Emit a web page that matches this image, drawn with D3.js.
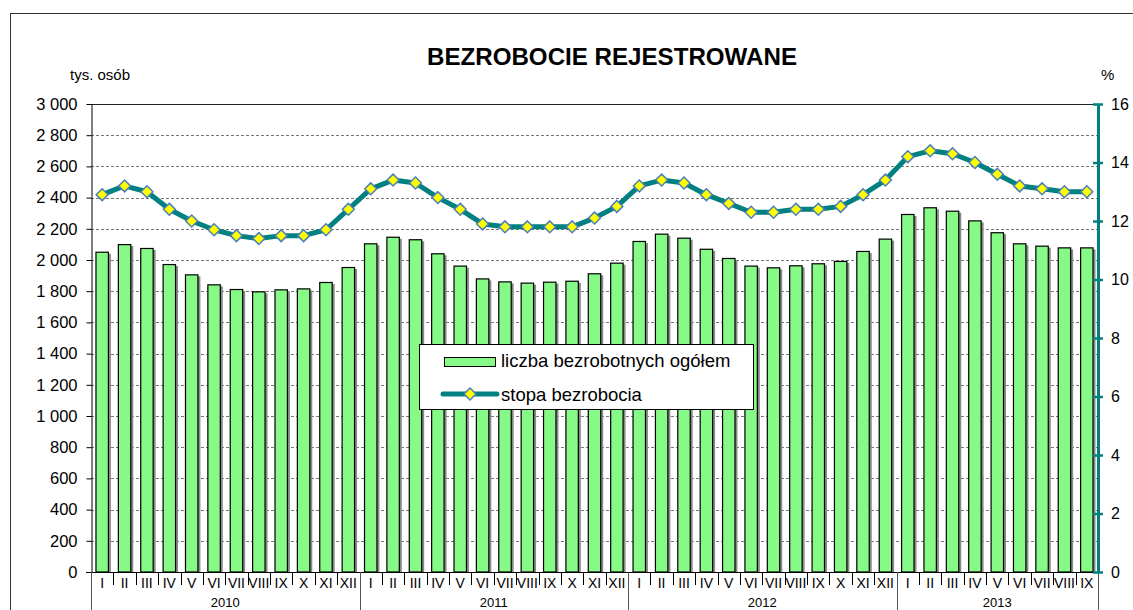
<!DOCTYPE html>
<html>
<head>
<meta charset="utf-8">
<script src="https://cdn.jsdelivr.net/npm/d3@7"></script>
<style>
  html, body { margin: 0; padding: 0; background: #fff; }
  svg { display: block; font-family: "Liberation Sans", Arial, sans-serif; }
</style>
</head>
<body>
<svg id="chart" width="1133" height="610"></svg>
<script>
// ---- data ----
const years = ["2010", "2011", "2012", "2013"];
const monthsPerYear = [12, 12, 12, 9];
const monthLabels = ["I","II","III","IV","V","VI","VII","VIII","IX","X","XI","XII"];
const unemployed = [ // tys. osób
  2053, 2102, 2077, 1974, 1908, 1844, 1814, 1799, 1812, 1818, 1859, 1955,
  2107, 2149, 2133, 2043, 1964, 1882, 1863, 1855, 1861, 1867, 1915, 1983,
  2122, 2169, 2143, 2072, 2013, 1964, 1953, 1966, 1979, 1994, 2058, 2137,
  2295, 2338, 2316, 2254, 2178, 2107, 2092, 2081, 2081
];
const rate = [ // %
  12.9, 13.2, 13.0, 12.4, 12.0, 11.7, 11.5, 11.4, 11.5, 11.5, 11.7, 12.4,
  13.1, 13.4, 13.3, 12.8, 12.4, 11.9, 11.8, 11.8, 11.8, 11.8, 12.1, 12.5,
  13.2, 13.4, 13.3, 12.9, 12.6, 12.3, 12.3, 12.4, 12.4, 12.5, 12.9, 13.4,
  14.2, 14.4, 14.3, 14.0, 13.6, 13.2, 13.1, 13.0, 13.0
];
const leftTicks = [0,200,400,600,800,1000,1200,1400,1600,1800,2000,2200,2400,2600,2800,3000];
const rightTicks = [0,2,4,6,8,10,12,14,16];
const titleText = "BEZROBOCIE REJESTROWANE";
const leftUnit = "tys. osób";
const rightUnit = "%";
const legendLabels = ["liczba bezrobotnych ogółem", "stopa bezrobocia"];

// ---- build periods ----
const periods = [];
years.forEach((y, yi) => {
  for (let m = 0; m < monthsPerYear[yi]; m++) periods.push({ key: y + "-" + m, year: y, month: monthLabels[m] });
});

const svg = d3.select("#chart");
const L = 91, R = 1098, T = 104, B = 572;

const x = d3.scaleBand().domain(periods.map(d => d.key)).range([L, R]).paddingInner(0.4).paddingOuter(0.2);
const xs = d3.scaleBand().domain(periods.map(d => d.key)).range([L, R]).padding(0);
const yL = d3.scaleLinear().domain([0, 3000]).range([B, T]);
const yR = d3.scaleLinear().domain([0, 16]).range([B, T]);

const fmt = v => d3.format(",")(v).replace(/,/g, " ");

// outer frame
svg.append("rect").attr("x", 10.5).attr("y", 13.5).attr("width", 1140).attr("height", 620)
  .attr("fill", "none").attr("stroke", "#333").attr("stroke-width", 1);

// title
svg.append("text").attr("x", 612).attr("y", 65).attr("text-anchor", "middle")
  .attr("font-size", 23).attr("font-weight", "bold").attr("fill", "#000")
  .attr("textLength", 370).attr("lengthAdjust", "spacingAndGlyphs")
  .text(titleText);

svg.append("text").attr("x", 70).attr("y", 80).attr("font-size", 15).text(leftUnit);
svg.append("text").attr("x", 1101).attr("y", 80).attr("font-size", 15).text(rightUnit);

// gridlines
svg.append("g").selectAll("line").data(leftTicks.filter(v => v > 0)).join("line")
  .attr("x1", L).attr("x2", R)
  .attr("y1", d => Math.round(yL(d)) + 0.5).attr("y2", d => Math.round(yL(d)) + 0.5)
  .attr("stroke", d => d === 3000 ? "#222" : "#777")
  .attr("stroke-width", 1)
  .attr("stroke-dasharray", d => d === 3000 ? null : "3,2");

// left axis
const gL = svg.append("g").attr("transform", `translate(${L + 0.5},0)`)
  .call(d3.axisLeft(yL).tickValues(leftTicks).tickFormat(fmt).tickSize(5).tickSizeOuter(0));
gL.select(".domain").attr("stroke", "#000");
gL.selectAll(".tick line").attr("stroke", "#000");
gL.selectAll(".tick text").attr("font-size", 16.5).attr("fill", "#000")
  .attr("font-family", "'Liberation Sans', Arial, sans-serif").attr("x", -14);

// bars with shadow
const bars = svg.append("g");
bars.selectAll("rect.shadow").data(periods).join("rect").attr("class", "shadow")
  .attr("x", d => x(d.key) + 2).attr("y", (d, i) => yL(unemployed[i]) + 2)
  .attr("width", x.bandwidth()).attr("height", (d, i) => B - yL(unemployed[i]) - 2)
  .attr("fill", "#8a8a8a");
bars.selectAll("rect.bar").data(periods).join("rect").attr("class", "bar")
  .attr("x", d => x(d.key) + 0.5).attr("y", (d, i) => yL(unemployed[i]) + 0.5)
  .attr("width", x.bandwidth() - 1).attr("height", (d, i) => B - yL(unemployed[i]) - 0.5)
  .attr("fill", "#86f986").attr("stroke", "#000").attr("stroke-width", 1.2);

// x axis baseline
svg.append("line").attr("x1", 86).attr("x2", R).attr("y1", B + 0.5).attr("y2", B + 0.5).attr("stroke", "#000");

// month separators & labels
const xa = svg.append("g");
const sepX = periods.map(d => xs(d.key)).concat([R]);
xa.selectAll("line.m").data(sepX).join("line").attr("class", "m")
  .attr("x1", d => Math.round(d) + 0.5).attr("x2", d => Math.round(d) + 0.5)
  .attr("y1", B).attr("y2", B + 13).attr("stroke", "#000");
xa.selectAll("text.m").data(periods).join("text").attr("class", "m")
  .attr("x", d => xs(d.key) + xs.bandwidth() / 2).attr("y", B + 15.5)
  .attr("text-anchor", "middle").attr("font-size", 14).attr("fill", "#000")
  .text(d => d.month);

// year separators & labels
let cum = 0;
const yearInfo = years.map((y, yi) => {
  const start = xs(periods[cum].key);
  cum += monthsPerYear[yi];
  const end = cum < periods.length ? xs(periods[cum].key) : R;
  return { y, start, end };
});
const yearSep = [L].concat(yearInfo.map(d => d.end));
xa.selectAll("line.y").data(yearSep).join("line").attr("class", "y")
  .attr("x1", d => Math.round(d) + 0.5).attr("x2", d => Math.round(d) + 0.5)
  .attr("y1", B).attr("y2", 612).attr("stroke", "#555");
xa.selectAll("text.y").data(yearInfo).join("text").attr("class", "y")
  .attr("x", d => (d.start + d.end) / 2).attr("y", 607)
  .attr("text-anchor", "middle").attr("font-size", 13).attr("fill", "#000")
  .text(d => d.y);

// right axis
const teal = "#008080";
const gR = svg.append("g").attr("transform", `translate(${R},0)`)
  .call(d3.axisRight(yR).tickValues(rightTicks).tickSize(5).tickSizeOuter(0));
gR.select(".domain").attr("stroke", teal).attr("stroke-width", 3);
gR.selectAll(".tick line").attr("stroke", teal).attr("stroke-width", 2.5).attr("x1", -5).attr("x2", 5);
gR.selectAll(".tick text").attr("font-size", 16).attr("fill", "#000")
  .attr("font-family", "'Liberation Sans', Arial, sans-serif").attr("x", 13);

// line
const cx = d => xs(d.key) + xs.bandwidth() / 2;
const line = d3.line().x(d => cx(d)).y((d, i) => yR(rate[i]));
svg.append("path").datum(periods).attr("d", line)
  .attr("fill", "none").attr("stroke", teal).attr("stroke-width", 5).attr("stroke-linejoin", "round");
const diamond = d3.symbol().type(d3.symbolDiamond2).size(90);
svg.append("g").selectAll("path").data(periods).join("path")
  .attr("transform", (d, i) => `translate(${cx(d)},${yR(rate[i])})`)
  .attr("d", diamond)
  .attr("fill", "#ffff00").attr("stroke", "#4a7ebb").attr("stroke-width", 1.5);

// legend
const lg = svg.append("g");
lg.append("rect").attr("x", 419.5).attr("y", 344.5).attr("width", 334).attr("height", 65)
  .attr("fill", "#fff").attr("stroke", "#000");
lg.append("rect").attr("x", 444.5).attr("y", 357.5).attr("width", 51).attr("height", 9)
  .attr("fill", "#86f986").attr("stroke", "#000");
lg.append("text").attr("x", 501).attr("y", 367).attr("font-size", 18.5).text(legendLabels[0]);
lg.append("line").attr("x1", 443).attr("x2", 497).attr("y1", 394).attr("y2", 394)
  .attr("stroke", teal).attr("stroke-width", 5).attr("stroke-linecap", "round");
lg.append("path").attr("transform", "translate(470,394)").attr("d", diamond)
  .attr("fill", "#ffff00").attr("stroke", "#4a7ebb").attr("stroke-width", 1.5);
lg.append("text").attr("x", 501).attr("y", 400.5).attr("font-size", 18.5).text(legendLabels[1]);
</script>
</body>
</html>
